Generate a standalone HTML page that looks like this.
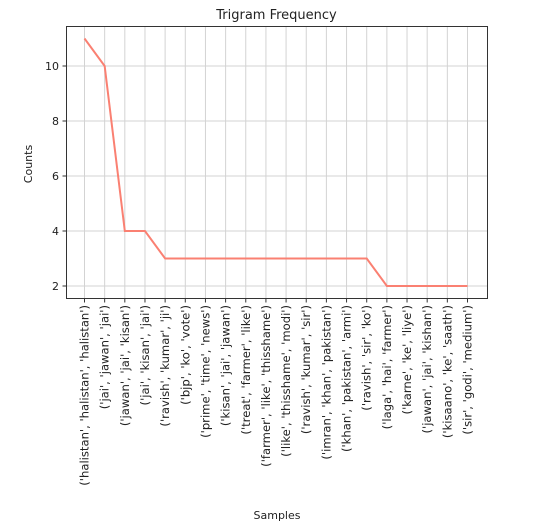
<!DOCTYPE html>
<html><head><meta charset="utf-8"><style>
body{margin:0;background:#fff;}
text{font-family:"DejaVu Sans","Liberation Sans",sans-serif;fill:#222;}
</style></head><body>
<svg id="chart" width="542" height="526" xmlns="http://www.w3.org/2000/svg">
<text x="276.5" y="19" font-size="13" text-anchor="middle">Trigram Frequency</text>
<g id="grid"></g>
<g id="ticks"></g>
<polyline id="line" fill="none" stroke="#fa8072" stroke-width="2"/>
<rect x="66.5" y="26.5" width="421" height="272" fill="none" stroke="#333" stroke-width="1"/>
<text transform="translate(32,164) rotate(-90)" font-size="11" text-anchor="middle">Counts</text>
<text x="277" y="519" font-size="11" text-anchor="middle">Samples</text>
</svg>
<script>
const categories=["('halistan', 'halistan', 'halistan')","('jai', 'jawan', 'jai')","('jawan', 'jai', 'kisan')","('jai', 'kisan', 'jai')","('ravish', 'kumar', 'ji')","('bjp', 'ko', 'vote')","('prime', 'time', 'news')","('kisan', 'jai', 'jawan')","('treat', 'farmer', 'like')","('farmer', 'like', 'thisshame')","('like', 'thisshame', 'modi')","('ravish', 'kumar', 'sir')","('imran', 'khan', 'pakistan')","('khan', 'pakistan', 'armi')","('ravish', 'sir', 'ko')","('laga', 'hai', 'farmer')","('karne', 'ke', 'liye')","('jawan', 'jai', 'kishan')","('kisaano', 'ke', 'saath')","('sir', 'godi', 'medium')"];
const counts=[11,10,4,4,3,3,3,3,3,3,3,3,3,3,3,2,2,2,2,2];
const yTicks=[2,4,6,8,10];
const NS="http://www.w3.org/2000/svg";
const x0=84.5,x1=467.5;
function xs(i){return x0+(x1-x0)*i/(categories.length-1);}
function ys(v){return 286-(v-2)*27.5;}
const grid=document.getElementById('grid'),ticks=document.getElementById('ticks');
function mk(tag,attrs,parent){const e=document.createElementNS(NS,tag);for(const k in attrs)e.setAttribute(k,attrs[k]);parent.appendChild(e);return e;}
categories.forEach((c,i)=>{
  const x=xs(i);
  const g=mk('line',{x1:x,x2:x,y1:26.5,y2:298.5,stroke:'#d3d3d3','stroke-width':1},grid);
  
  
  const t=mk('line',{x1:x,x2:x,y1:298.5,y2:302.5,stroke:'#333'},ticks);
  
  
  const l=mk('text',{transform:`translate(${x+4},305) rotate(-90)`,'font-size':11.6,'text-anchor':'end'},ticks);
  l.textContent=c;
  
  
});
yTicks.forEach(v=>{
  const y=ys(v);
  const g=mk('line',{x1:66.5,x2:487.5,y1:y,y2:y,stroke:'#d3d3d3','stroke-width':1},grid);
  
  
  const t=mk('line',{x1:62.5,x2:66.5,y1:y,y2:y,stroke:'#333'},ticks);
  
  
  const l=mk('text',{x:59,y:y+4,'font-size':11,'text-anchor':'end'},ticks);
  l.textContent=v;
  
  
});
document.getElementById('line').setAttribute('points',counts.map((v,i)=>xs(i)+','+ys(v)).join(' '));
</script>
</body></html>
